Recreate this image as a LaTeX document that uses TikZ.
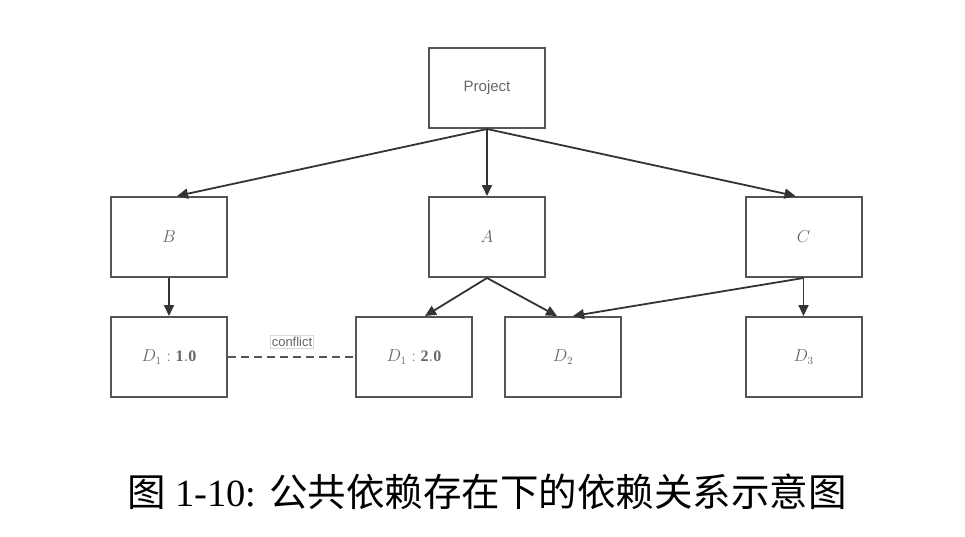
\documentclass[tikz,border=0pt]{standalone}
\usepackage{fontspec}
\setmainfont{Liberation Serif}
\setsansfont{Liberation Sans}
\newfontfamily\cjk{Noto Sans CJK SC}
\usetikzlibrary{arrows.meta,calc}
\definecolor{boxline}{HTML}{555555}
\definecolor{arrowline}{HTML}{333333}
\definecolor{labeltext}{HTML}{666666}
\begin{document}
\begin{tikzpicture}[x=1pt,y=-1pt,
  box/.style={draw=boxline,line width=2pt,minimum width=116pt,minimum height=80pt,inner sep=0pt,text=labeltext,font=\fontsize{16}{18}\selectfont},
  arr/.style={draw=arrowline,line width=1.8pt,-{Triangle[length=11pt,width=10pt]}},
  conf/.style={draw=boxline,line width=2.5pt,dash pattern=on 8pt off 5pt},
  tag/.style={draw=black!15,line width=0.6pt,fill=white,inner sep=1.5pt,text=labeltext,font=\sffamily\fontsize{13}{14}\selectfont}
]
\useasboundingbox (0,0) rectangle (965,536);
\node[box,font=\sffamily\fontsize{15}{17}\selectfont] (P) at (487,88) {Project};
\node[box] (B) at (169,237) {$B$};
\node[box] (A) at (487,237) {$A$};
\node[box] (C) at (803.5,237) {$C$};
\node[box] (D1a) at (169,357) {$D_1:\mathbf{1.0}$};
\node[box] (D1b) at (414,357) {$D_1:\mathbf{2.0}$};
\node[box] (D2) at (563,357) {$D_2$};
\node[box] (D3) at (803.5,357) {$D_3$};
\draw[arr] (P.south) -- ($(B.north)+(8,0)$);
\draw[arr] (P.south) -- (A.north);
\draw[arr] (P.south) -- ($(C.north)+(-8,0)$);
\draw[arr] (B.south) -- (D1a.north);
\draw[arr] (A.south) -- ($(D1b.north)+(11,0)$);
\draw[arr] (A.south) -- ($(D2.north)+(-6,0)$);
\draw[arr] (C.south) -- ($(D2.north)+(10,0)$);
\draw[arr] (C.south) -- (D3.north);
\draw[conf] (D1a.east) -- (D1b.west);
\node[tag] (cf) at (292,342) {conflict};
\node[font=\fontsize{38.5}{44}\selectfont] (cap) at (487,492) {{\cjk 图} 1-10: {\cjk 公共依赖存在下的依赖关系示意图}};
\end{tikzpicture}
\end{document}
